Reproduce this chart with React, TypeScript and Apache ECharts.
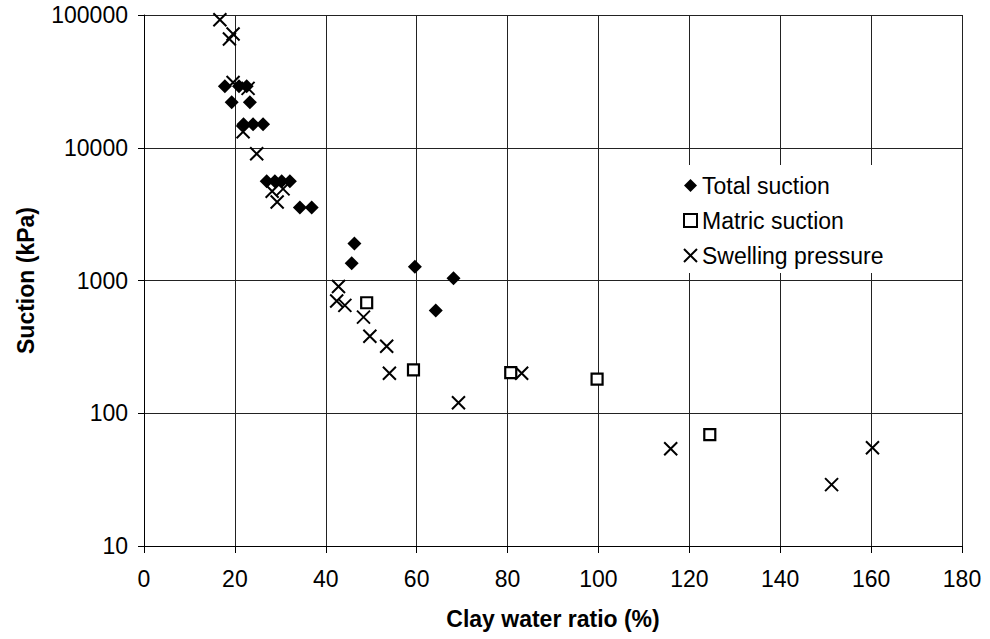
import React, { useEffect, useRef } from "react";
import * as echarts from "echarts";

const totalX = [17.8, 20.9, 22.6, 19.3, 23.3, 21.9, 24.0, 26.2, 27.0, 28.8, 30.3, 32.1, 34.3, 36.9, 46.3, 45.7, 59.6, 68.1, 64.2];
const totalY = [29000, 29000, 29000, 22000, 22000, 15000, 15000, 15000, 5600, 5600, 5600, 5600, 3550, 3550, 1900, 1350, 1270, 1040, 595];

const matricX = [49.0, 59.3, 80.7, 99.7, 124.5];
const matricY = [680, 212, 202, 181, 69];

const swellX = [16.7, 18.8, 19.6, 19.6, 22.9, 21.8, 24.8, 28.2, 30.6, 29.3, 42.8, 42.4, 44.2, 48.3, 49.7, 53.4, 54.0, 69.2, 83.1, 115.9, 160.3, 151.3];
const swellY = [92000, 66000, 72000, 31000, 28000, 13200, 9000, 4700, 4900, 3900, 900, 700, 650, 530, 380, 320, 200, 120, 200, 54, 55, 29];

const seriesNames = ["Total suction", "Matric suction", "Swelling pressure"];
const xTitle = "Clay water ratio (%)";
const yTitle = "Suction (kPa)";

const zip = (xs: number[], ys: number[]) => xs.map((x, i) => [x, ys[i]]);

const FONT = "'Liberation Sans', Arial, sans-serif";
const CROSS = "path://M0,0L10,10M0,10L10,0";

export default function App() {
  const ref = useRef<HTMLDivElement>(null);
  useEffect(() => {
    document.body.style.margin = "0";
    const chart = echarts.init(ref.current!, null, { renderer: "svg" });
    chart.setOption({
      animation: false,
      backgroundColor: "#fff",
      textStyle: { fontFamily: FONT, color: "#000" },
      grid: { left: 144, top: 15, right: 28, bottom: 93 },
      xAxis: {
        type: "value",
        min: 0,
        max: 180,
        interval: 20,
        name: xTitle,
        nameLocation: "middle",
        nameGap: 61,
        nameTextStyle: { fontSize: 23, fontWeight: "bold", color: "#000", fontFamily: FONT },
        axisLine: { show: true, onZero: false, lineStyle: { color: "#000", width: 1 } },
        axisTick: { show: true, inside: false, length: 7, lineStyle: { color: "#000" } },
        axisLabel: { fontSize: 23, color: "#000", margin: 21, fontFamily: FONT },
        splitLine: { show: true, lineStyle: { color: "#222", width: 1 } },
      },
      yAxis: {
        type: "log",
        logBase: 10,
        min: 10,
        max: 100000,
        name: yTitle,
        nameLocation: "middle",
        nameGap: 107,
        nameTextStyle: { fontSize: 23, fontWeight: "bold", color: "#000", fontFamily: FONT },
        axisLine: { show: true, lineStyle: { color: "#000", width: 1 } },
        axisTick: { show: true, inside: false, length: 6, lineStyle: { color: "#000" } },
        axisLabel: {
          fontSize: 23,
          color: "#000",
          margin: 16,
          fontFamily: FONT,
          formatter: (v: number) => String(Math.round(v)),
        },
        splitLine: { show: true, lineStyle: { color: "#222", width: 1 } },
        minorTick: { show: false },
      },
      legend: {
        orient: "vertical",
        left: 673,
        top: 165,
        padding: [9, 10, 6, 10],
        backgroundColor: "#fff",
        itemWidth: 13,
        itemHeight: 13,
        itemGap: 12,
        textStyle: { fontSize: 23, color: "#000", fontFamily: FONT },
        data: seriesNames,
      },
      series: [
        {
          name: seriesNames[0],
          type: "scatter",
          symbol: "diamond",
          symbolSize: 14,
          itemStyle: { color: "#000", opacity: 1 },
          data: zip(totalX, totalY),
        },
        {
          name: seriesNames[1],
          type: "scatter",
          symbol: "rect",
          symbolSize: 11,
          itemStyle: { color: "#fff", borderColor: "#000", borderWidth: 2.2, opacity: 1 },
          data: zip(matricX, matricY),
        },
        {
          name: seriesNames[2],
          type: "scatter",
          symbol: CROSS,
          symbolSize: 13,
          itemStyle: { color: "#000", borderColor: "#000", borderWidth: 2, opacity: 1 },
          data: zip(swellX, swellY),
        },
      ],
    });
    return () => chart.dispose();
  }, []);
  return <div ref={ref} style={{ width: 990, height: 639 }} />;
}
